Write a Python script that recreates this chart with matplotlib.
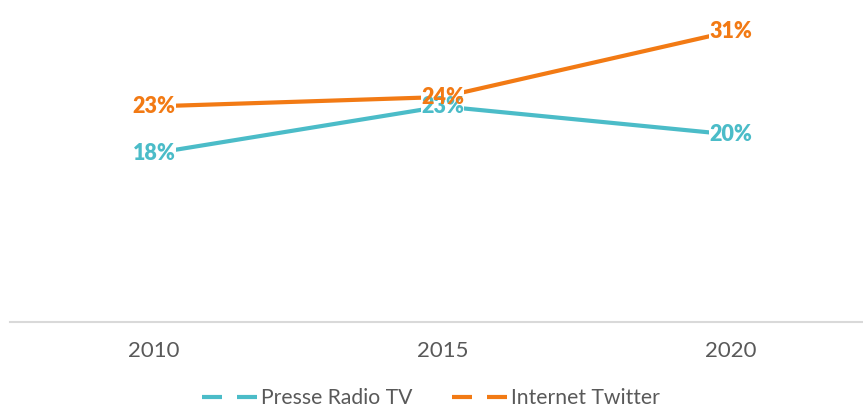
import matplotlib
matplotlib.use("Agg")
import matplotlib.pyplot as plt
from matplotlib.lines import Line2D

plt.rcParams['font.family'] = ['Lato', 'DejaVu Sans']
plt.rcParams['lines.scale_dashes'] = False

years = ["2010", "2015", "2020"]
presse = [18, 23, 20]
internet = [23, 24, 31]
series_names = ["Presse Radio TV", "Internet Twitter"]
colors = ["#4BBCC8", "#F27A14"]

W, H = 863, 407
fig = plt.figure(figsize=(W / 100, H / 100), dpi=100)
left = 10 / W
right = 875 / W
bottom = (H - 322) / H
ylim_top = 34.3
top_px = 322 - ylim_top * 9.375
ax = fig.add_axes([left, bottom, right - left, (322 - top_px) / H])
ax.set_xlim(-0.5, 2.5)
ax.set_ylim(0, ylim_top)

x = list(range(len(years)))
for vals, c in zip([presse, internet], colors):
    ax.plot(x, vals, color=c, lw=3.0, solid_capstyle='butt', zorder=2)
# white backgrounds behind the labels (cut the lines)
for vals in [presse, internet]:
    for xi, v in zip(x, vals):
        ax.text(xi, v, f"{v}%", color='none', fontsize=15.5, fontweight='heavy',
                ha='center', va='center', zorder=3,
                bbox=dict(facecolor='white', edgecolor='none', pad=0.0))
# label texts on top
for vals, c, z in zip([presse, internet], colors, [5, 6]):
    for xi, v in zip(x, vals):
        ax.text(xi, v, f"{v}%", color=c, fontsize=15.5, fontweight='heavy',
                ha='center', va='center', zorder=z)

for s in ['top', 'right', 'left']:
    ax.spines[s].set_visible(False)
ax.spines['bottom'].set_color('#D9D9D9')
ax.spines['bottom'].set_linewidth(1.5)
ax.set_yticks([])
ax.set_xticks(x)
ax.set_xticklabels(years, fontsize=16, color='#595959')
ax.tick_params(axis='x', length=0, pad=14)

handles = [Line2D([0], [0], color=c, lw=3.0, dashes=(14.4, 10.8)) for c in colors]
fig.legend(handles, series_names, loc='center', bbox_to_anchor=(431 / W, 1 - 398 / H),
           ncol=2, frameon=False, fontsize=15.2, labelcolor='#595959',
           handlelength=2.6, handletextpad=0.2, columnspacing=1.9)

fig.savefig("out.png", dpi=100)
